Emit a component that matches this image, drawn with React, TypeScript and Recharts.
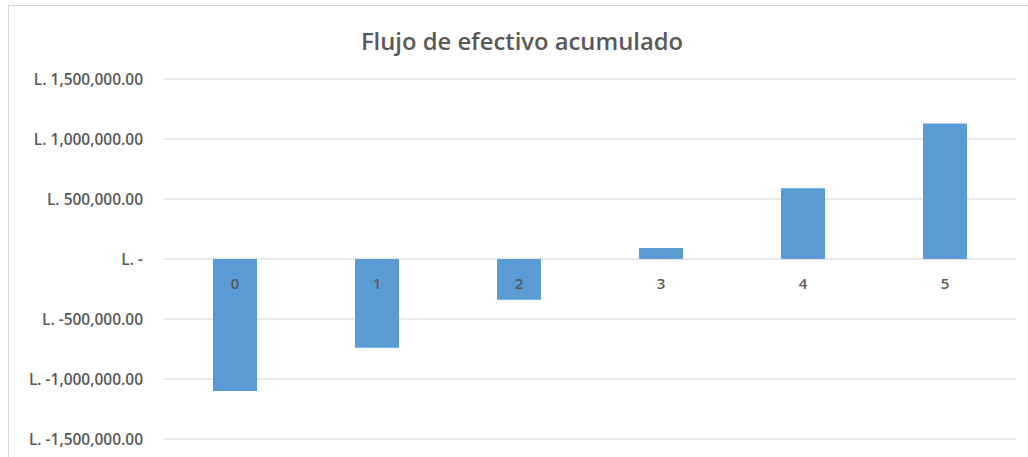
import React from "react";
import { BarChart, Bar, XAxis, YAxis, CartesianGrid, LabelList } from "recharts";

const periods = ["0", "1", "2", "3", "4", "5"];
const cumulativeFlow = [-1100000, -740000, -340000, 92000, 590000, 1130000];
const yTicks = [-1500000, -1000000, -500000, 0, 500000, 1000000, 1500000];

const data = periods.map((name, i) => ({ name, flujo: cumulativeFlow[i] }));

const FONT = "'Open Sans', 'Noto Sans', sans-serif";
const TEXT = "#595959";

const formatLempira = (v: number) => {
  if (v === 0) return "L. -";
  const s = Math.abs(v).toLocaleString("en-US", {
    minimumFractionDigits: 2,
    maximumFractionDigits: 2,
  });
  return v < 0 ? `L. -${s}` : `L. ${s}`;
};

// category label sits just below the zero line, like Excel's "low" axis labels
const PeriodLabel = (props: any) => {
  const { x, y, width, height, index } = props;
  const value = cumulativeFlow[index];
  const zero = value >= 0 ? Math.max(y, y + height) : Math.min(y, y + height);
  return (
    <text
      x={x + width / 2}
      y={zero + 26}
      textAnchor="middle"
      dominantBaseline="middle"
      fill={TEXT}
      fontSize={15}
      fontWeight={600}
      fontFamily={FONT}
    >
      {periods[index]}
    </text>
  );
};

const App = () => {
  return (
    <div
      style={{
        position: "absolute",
        left: 0,
        top: 0,
        width: 1028,
        height: 457,
        background: "#ffffff",
        overflow: "hidden",
      }}
    >
      <div
        style={{
          position: "absolute",
          left: 8,
          top: 5,
          width: 1100,
          height: 500,
          borderLeft: "1px solid #d9d9d9",
          borderTop: "1px solid #d9d9d9",
        }}
      />
      <div
        style={{
          position: "absolute",
          left: 0,
          top: 25,
          width: 1044,
          textAlign: "center",
          fontFamily: FONT,
          fontSize: 23.8,
          fontWeight: 600,
          color: TEXT,
        }}
      >
        Flujo de efectivo acumulado
      </div>
      <div style={{ position: "absolute", left: 0, top: 0 }}>
        <BarChart
          width={1028}
          height={457}
          data={data}
          margin={{ top: 79, right: 12, bottom: 18, left: 0 }}
          barCategoryGap="34.5%"
        >
          <CartesianGrid vertical={false} stroke="#e0e0e0" strokeWidth={1.5} />
          <XAxis dataKey="name" hide />
          <YAxis
            width={164}
            domain={[-1500000, 1500000]}
            ticks={yTicks}
            tickFormatter={formatLempira}
            axisLine={false}
            tickLine={false}
            tickSize={0}
            tickMargin={21}
            interval={0}
            tick={{ fill: TEXT, fontSize: 15.5, fontFamily: FONT, fontWeight: 600 }}
          />
          <Bar dataKey="flujo" fill="#5b9bd5" isAnimationActive={false}>
            <LabelList dataKey="name" content={<PeriodLabel />} />
          </Bar>
        </BarChart>
      </div>
    </div>
  );
};

export default App;
